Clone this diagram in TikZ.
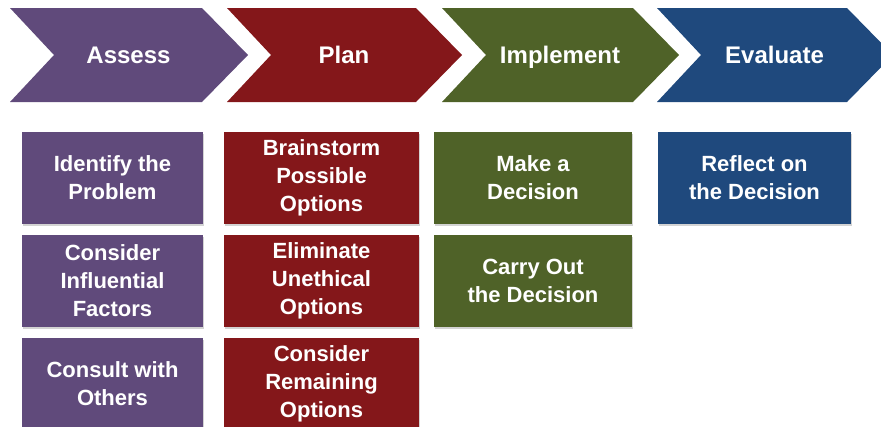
\documentclass[tikz,border=0pt]{standalone}
\usepackage{fontspec}
\setmainfont{Liberation Sans}
\usetikzlibrary{shadows}
\definecolor{cpurple}{HTML}{604A7B}
\definecolor{cred}{HTML}{84171A}
\definecolor{cgreen}{HTML}{4F6228}
\definecolor{cblue}{HTML}{1F497D}
\begin{document}
\begin{tikzpicture}[x=1pt,y=-1pt,
  stagetext/.style={text=white,anchor=base,font=\bfseries\fontsize{24}{28}\selectfont},
  item/.style={fill=#1,text=white,font=\bfseries\fontsize{22}{28}\selectfont,
    align=center,inner sep=0pt,
    drop shadow={opacity=0.35,shadow xshift=1pt,shadow yshift=-1.5pt}},
]
\useasboundingbox (0,0) rectangle (881,426);
\begin{scope}
\clip (0,0) rectangle (881,426);
% chevrons: left x, right x, colour
\foreach \L/\R/\c in {10/202/cpurple,227/416/cred,442/633/cgreen,657/847/cblue}{
  \fill[\c] (\L,8) -- (\R,8) -- (\R+46,55) -- (\R,102) -- (\L,102) -- (\L+44,55) -- cycle;
}
\node[stagetext] (assess) at (128.5,63) {Assess};
\node[stagetext] (plan) at (344,63) {Plan};
\node[stagetext] (implement) at (560,63) {Implement};
\node[stagetext] (evaluate) at (774.5,63) {Evaluate};
% Assess column
\node[item=cpurple,minimum width=181pt,minimum height=92pt] (a1) at (112.5,178) {Identify the\\Problem};
\node[item=cpurple,minimum width=181pt,minimum height=92pt] (a2) at (112.5,281) {Consider\\Influential\\Factors};
\node[item=cpurple,minimum width=181pt,minimum height=92pt] (a3) at (112.5,384) {Consult with\\Others};
% Plan column
\node[item=cred,minimum width=195pt,minimum height=92pt] (p1) at (321.5,178) {Brainstorm\\Possible\\Options};
\node[item=cred,minimum width=195pt,minimum height=92pt] (p2) at (321.5,281) {Eliminate\\Unethical\\Options};
\node[item=cred,minimum width=195pt,minimum height=92pt] (p3) at (321.5,384) {Consider\\Remaining\\Options};
% Implement column
\node[item=cgreen,minimum width=198pt,minimum height=92pt] (i1) at (533,178) {Make a\\Decision};
\node[item=cgreen,minimum width=198pt,minimum height=92pt] (i2) at (533,281) {Carry Out\\the Decision};
% Evaluate column
\node[item=cblue,minimum width=193pt,minimum height=92pt] (e1) at (754.5,178) {Reflect on\\the Decision};
\end{scope}
\end{tikzpicture}
\end{document}
